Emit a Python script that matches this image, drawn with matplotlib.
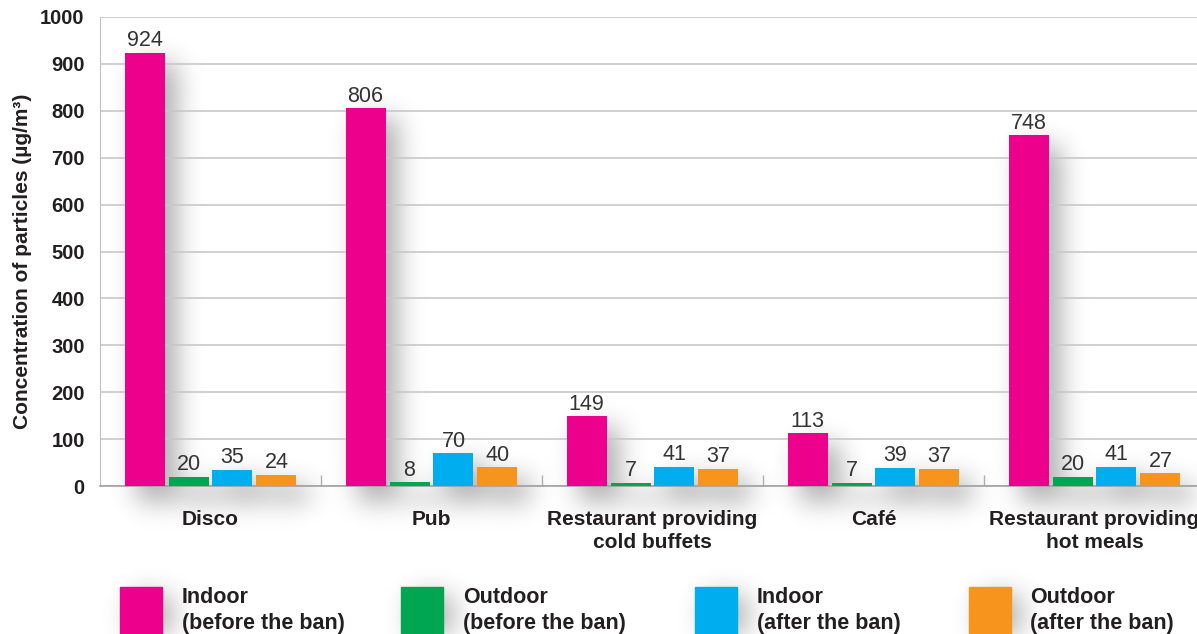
import numpy as np
import matplotlib
matplotlib.use("Agg")
import matplotlib.pyplot as plt
from matplotlib.patches import Rectangle

plt.rcParams['font.family'] = ['Liberation Sans', 'DejaVu Sans']

venues = ["Disco", "Pub", "Restaurant providing\ncold buffets", "Café",
          "Restaurant providing\nhot meals"]
indoor_before = [924, 806, 149, 113, 748]
outdoor_before = [20, 8, 7, 7, 20]
indoor_after = [35, 70, 41, 39, 41]
outdoor_after = [24, 40, 37, 37, 27]
series_names = ["Indoor\n(before the ban)", "Outdoor\n(before the ban)",
                "Indoor\n(after the ban)", "Outdoor\n(after the ban)"]
colors = ["#EC008C", "#00A651", "#00AEEF", "#F7941D"]

W, H = 1197, 634
TXT = "#231F20"

fig = plt.figure(figsize=(W / 100, H / 100), dpi=100)

# background layer in pixel units, used for the soft drop shadows and legend
bg = fig.add_axes([0, 0, 1, 1], zorder=0)
bg.set_xlim(0, W)
bg.set_ylim(0, H)
bg.axis("off")

ax = fig.add_axes([100 / W, (H - 486) / H, 1105 / W, 469 / H], zorder=1)
ax.patch.set_alpha(0)

data = [indoor_before, outdoor_before, indoor_after, outdoor_after]
x = np.arange(len(venues))
step = 0.199
bw = 0.181
bars = []
for k, vals in enumerate(data):
    b = ax.bar(x + (k - 1.5) * step, vals, width=bw, color=colors[k], zorder=3)
    bars.append(b)
    for xi, v in zip(x, vals):
        ax.annotate(str(v), (xi + (k - 1.5) * step, v), xytext=(0, 1),
                    textcoords="offset points", ha="center", va="bottom",
                    fontsize=15.5, color="#333333", zorder=4)

ax.set_xlim(-0.5, len(venues) - 0.5)
ax.set_ylim(0, 1000)
ax.set_yticks(range(0, 1001, 100))
ax.yaxis.grid(True, color="#c8c8c8", linewidth=1.2, zorder=0)
ax.set_axisbelow(True)
for lbl in ax.get_yticklabels():
    lbl.set_fontweight("bold")
ax.tick_params(axis="y", length=0, pad=11, labelsize=14.5, labelcolor=TXT)

ax.set_xticks(x)
ax.set_xticklabels(venues, fontsize=15, fontweight="bold", color=TXT,
                   linespacing=1.3)
ax.set_xticks(np.arange(0.5, len(venues) - 0.5, 1), minor=True)
ax.tick_params(axis="x", which="major", length=0, pad=17)
ax.tick_params(axis="x", which="minor", direction="in", length=8,
               color="#b0b0b0", width=1)

for s in ("top", "right"):
    ax.spines[s].set_visible(False)
ax.spines["left"].set_color("#c0c0c0")
ax.spines["bottom"].set_color("#a0a0a0")
ax.spines["bottom"].set_linewidth(1.2)

ax.text(-0.0705, 0.48, "Concentration of particles (µg/m³)", transform=ax.transAxes,
        rotation=90, ha="center", va="center", fontsize=15,
        fontweight="bold", color=TXT)

# legend squares and labels (pixel positions on the background layer)
leg_x = [120, 401, 695, 969]
leg_txt_x = [182, 463, 757, 1030]
for lx, tx, c, name in zip(leg_x, leg_txt_x, colors, series_names):
    bg.add_patch(Rectangle((lx, -10), 42, H - 587 + 10, color=c, zorder=3))
    bg.text(tx, H - 587, name, ha="left", va="top", fontsize=15.5,
            fontweight="bold", color=TXT, linespacing=1.3, zorder=3)

# blurred shadow mask built from the bar rectangles and legend squares
mask = np.zeros((H, W))
fig.canvas.draw()
for b in bars:
    for p in b.patches:
        (x0, y0), (x1, y1) = ax.transData.transform(
            [(p.get_x(), 0), (p.get_x() + p.get_width(), p.get_height())])
        x0, x1 = int(x0) + 13, int(x1) + 13
        y0, y1 = int(y0) - 16, int(y1) - 10
        mask[max(y0, 0):max(y1, 0), max(x0, 0):min(x1, W)] = 1
for lx in leg_x:
    mask[0:H - 595, lx + 10:lx + 52] = 1

sigma = 13
r = np.arange(-3 * sigma, 3 * sigma + 1)
kern = np.exp(-r ** 2 / (2 * sigma ** 2))
kern /= kern.sum()
blur = np.apply_along_axis(lambda m: np.convolve(m, kern, mode="same"), 1, mask)
blur = np.apply_along_axis(lambda m: np.convolve(m, kern, mode="same"), 0, blur)

shadow = np.zeros((H, W, 4))
shadow[..., 3] = np.clip(blur, 0, 1) * 0.32
bg.imshow(shadow, extent=(0, W, 0, H), origin="lower", aspect="auto",
          interpolation="bilinear", zorder=1)
bg.set_xlim(0, W)
bg.set_ylim(0, H)

fig.savefig("out.png", dpi=100)
